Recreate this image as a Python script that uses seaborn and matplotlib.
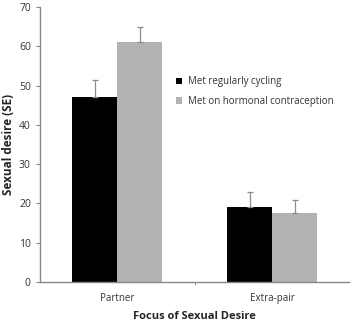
import matplotlib
matplotlib.use("Agg")
import matplotlib.pyplot as plt
import seaborn as sns
import pandas as pd
import numpy as np

categories = ["Partner", "Extra-pair"]
groups = ["Met regularly cycling", "Met on hormonal contraception"]
cycling_vals = [47, 19]
hc_vals = [61, 17.5]
cycling_se = [4.5, 4]
hc_se = [4, 3.5]
yticks = [0, 10, 20, 30, 40, 50, 60, 70]

df = pd.DataFrame({
    "focus": categories * 2,
    "group": [groups[0]] * 2 + [groups[1]] * 2,
    "value": cycling_vals + hc_vals,
    "se": cycling_se + hc_se,
})

sns.set_style("white")
plt.rcParams['font.family'] = ['Open Sans', 'DejaVu Sans']

fig = plt.figure(figsize=(3.53, 3.23), dpi=100)
ax = fig.add_axes([0.113, 0.127, 0.877, 0.851])

sns.barplot(data=df, x="focus", y="value", hue="group", order=categories,
            hue_order=groups, palette=["#000000", "#b3b3b3"], width=0.58,
            errorbar=None, ax=ax, saturation=1, linewidth=0)

# error bars (upper only) positioned from the drawn bars
for cont, g in zip(ax.containers, groups):
    sub = df[df.group == g].set_index("focus").loc[categories]
    xs = [p.get_x() + p.get_width() / 2 for p in cont.patches]
    ys = [p.get_height() for p in cont.patches]
    ax.errorbar(xs, ys, yerr=[np.zeros(len(xs)), sub["se"].values], fmt="none",
                ecolor="#8c8c8c", elinewidth=0.9, capsize=2.5, capthick=0.9)

ax.set_xlim(-0.5, 1.5)
ax.set_ylim(0, 70)
ax.set_yticks(yticks)
ax.set_xticks([0, 1])
ax.set_xticklabels(categories, fontsize=7, color="#333333")
ax.tick_params(axis="y", labelsize=7.5, colors="#333333", length=3, width=0.8, direction="out", left=True, color="#888888")
ax.tick_params(axis="x", length=0, pad=8)
# minor tick at category boundary
ax.set_xticks([0.5], minor=True)
ax.tick_params(axis="x", which="minor", length=2, color="#888888", bottom=True, direction="out")

for s in ["top", "right"]:
    ax.spines[s].set_visible(False)
for s in ["left", "bottom"]:
    ax.spines[s].set_color("#888888")
    ax.spines[s].set_linewidth(1.0)

ax.set_ylabel("Sexual desire (SE)", fontsize=8.5, fontweight="bold", labelpad=3)
ax.set_xlabel("Focus of Sexual Desire", fontsize=8, fontweight="bold", labelpad=5)

leg = ax.legend(loc="upper left", bbox_to_anchor=(0.41, 0.78), frameon=False,
                fontsize=7, handlelength=0.7, handleheight=0.7, handletextpad=0.6,
                labelspacing=0.9)
for t in leg.get_texts():
    t.set_color("#333333")

fig.savefig("out.png", dpi=100)
